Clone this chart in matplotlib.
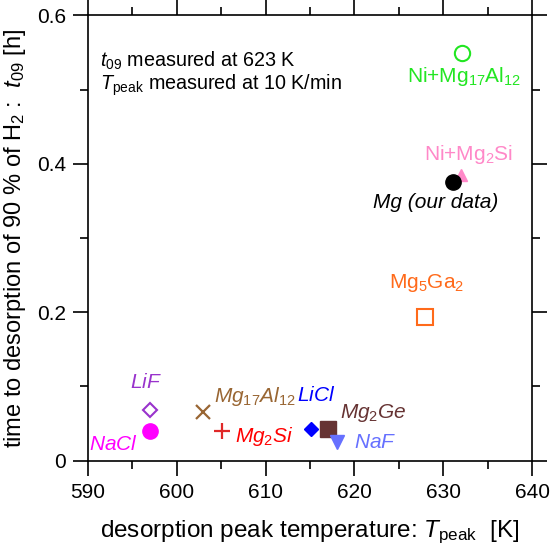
import matplotlib
matplotlib.use("Agg")
import matplotlib.pyplot as plt

plt.rcParams['font.family'] = ['Liberation Sans', 'DejaVu Sans']
plt.rcParams['mathtext.fontset'] = 'custom'
plt.rcParams['mathtext.rm'] = 'Liberation Sans'
plt.rcParams['mathtext.it'] = 'Liberation Sans:italic'
plt.rcParams['mathtext.bf'] = 'Liberation Sans:bold'

# data
names = ["Ni+Mg17Al12", "Ni+Mg2Si", "Mg", "Mg5Ga2", "LiF", "NaCl",
         "Mg17Al12", "Mg2Si", "LiCl", "Mg2Ge", "NaF"]
tpeak = [632.1, 632.0, 631.1, 628.0, 597.0, 597.0, 603.0, 605.1, 615.1, 617.0, 618.0]
t09 = [0.549, 0.385, 0.375, 0.194, 0.068, 0.040, 0.066, 0.040, 0.043, 0.043, 0.025]
labels = [r"Ni+Mg$_{17}$Al$_{12}$", r"Ni+Mg$_2$Si", "Mg (our data)", r"Mg$_5$Ga$_2$",
          r"$\mathit{LiF}$", r"$\mathit{NaCl}$", r"$\mathit{Mg_{17}Al_{12}}$",
          r"$\mathit{Mg_{2}Si}$", r"$\mathit{LiCl}$", r"$\mathit{Mg_{2}Ge}$", r"$\mathit{NaF}$"]
xticks = [590, 600, 610, 620, 630, 640]
yticks = [0, 0.2, 0.4, 0.6]
ytick_labels = ["0", "0.2", "0.4", "0.6"]

# styles
colors = ["#22e622", "#ff88c8", "#000000", "#ff6a1a", "#9933cc", "#ff00ff",
          "#996633", "#e02828", "#0000ff", "#663333", "#6670ff"]
text_colors = ["#22e622", "#ff88c8", "#000000", "#ff6a1a", "#9933cc", "#ff00ff",
               "#996633", "#ff0000", "#0000ff", "#663333", "#6670ff"]
markers = ["o", "^", "o", "s", "D", "o", "x", "+", "D", "s", "v"]
filled = [False, True, True, False, False, True, True, True, True, True, True]
msizes = [11, 8, 11, 11, 7.5, 11, 10, 11, 7.5, 11, 10]
italic = [False, False, True, False, True, True, True, True, True, True, True]
label_pos = [(632.3, 0.517, 'center'), (632.8, 0.412, 'center'), (629.1, 0.348, 'center'),
             (628.1, 0.240, 'center'), (596.5, 0.105, 'center'), (592.9, 0.0225, 'center'),
             (604.2, 0.086, 'left'), (606.55, 0.033, 'left'), (615.75, 0.0885, 'center'),
             (618.4, 0.064, 'left'), (620.0, 0.024, 'left')]

fig = plt.figure(figsize=(5.5, 5.54), dpi=100)
ax = fig.add_axes([0.16, 0.1684, 0.8073, 0.804])

for i in range(len(names)):
    kw = dict(marker=markers[i], markersize=msizes[i], linestyle='none',
              zorder=3 if i != 1 else 2)
    if markers[i] in ('x', '+'):
        kw.update(color=colors[i], markeredgewidth=1.6)
    elif filled[i]:
        kw.update(color=colors[i], markeredgecolor=colors[i])
    else:
        kw.update(markerfacecolor='none', markeredgecolor=colors[i], markeredgewidth=1.5)
    ax.plot([tpeak[i]], [t09[i]], **kw)
    lx, ly, ha = label_pos[i]
    ax.text(lx, ly, labels[i], color=text_colors[i], fontsize=15, ha=ha, va='center',
            style='italic' if italic[i] else 'normal')

ax.text(591.3, 0.539, r"$\mathit{t}_{09}$ measured at 623 K", fontsize=14.2, va='center')
ax.text(591.3, 0.506, r"$\mathit{T}_{\mathrm{peak}}$ measured at 10 K/min", fontsize=14.2, va='center')

ax.set_xlim(590, 640)
ax.set_ylim(0, 0.6)
ax.set_xticks(xticks)
ax.set_xticks([595, 605, 615, 625, 635], minor=True)
ax.set_yticks(yticks)
ax.set_yticklabels(ytick_labels)
ax.set_yticks([0.1, 0.3, 0.5], minor=True)
ax.tick_params(which='both', direction='out', top=True, right=True, labelsize=15, width=1.2)
ax.tick_params(which='major', length=11, pad=5)
ax.tick_params(which='minor', length=5.5)
for s in ax.spines.values():
    s.set_linewidth(1.2)

ax.set_xlabel(r"desorption peak temperature: $\mathit{T}_{\mathrm{peak}}$  [K]", fontsize=17.5, labelpad=12)
ax.set_ylabel(r"time to desorption of 90 % of H$_2$ :  $\mathit{t}_{09}$ [h]", fontsize=17, labelpad=6)

fig.savefig("out.png", dpi=100)
